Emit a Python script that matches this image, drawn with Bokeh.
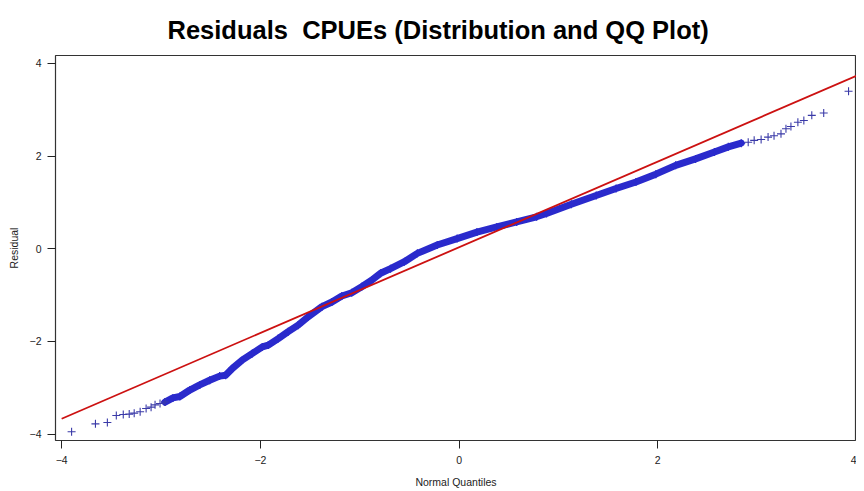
from bokeh.plotting import figure
from bokeh.models import FixedTicker
from bokeh.embed import file_html
from bokeh.resources import INLINE

# --- data ---
# individual crosses in the lower tail
tail_lo_q = [-3.90, -3.66, -3.54, -3.45, -3.38, -3.32, -3.27, -3.21, -3.15, -3.10, -3.06, -3.01, -2.96]
tail_lo_r = [-3.95, -3.78, -3.75, -3.60, -3.58, -3.57, -3.55, -3.52, -3.45, -3.42, -3.37, -3.34, -3.31]
# dense body of the sample (theoretical quantile, residual)
body_q = [-2.96, -2.88, -2.81, -2.71, -2.61, -2.51, -2.41, -2.35, -2.28, -2.18, -2.08, -1.98, -1.92,
          -1.82, -1.72, -1.62, -1.52, -1.38, -1.28, -1.18, -1.08, -0.98, -0.88, -0.79, -0.69, -0.55,
          -0.42, -0.22, -0.02, 0.18, 0.38, 0.58, 0.78, 0.88, 1.13, 1.38, 1.58, 1.78, 1.98, 2.18,
          2.38, 2.57, 2.71, 2.84]
body_r = [-3.31, -3.22, -3.19, -3.05, -2.94, -2.84, -2.75, -2.73, -2.58, -2.40, -2.26, -2.12, -2.08,
          -1.94, -1.79, -1.65, -1.47, -1.25, -1.15, -1.02, -0.95, -0.82, -0.68, -0.53, -0.43, -0.28,
          -0.10, 0.08, 0.22, 0.36, 0.47, 0.58, 0.69, 0.76, 0.96, 1.15, 1.30, 1.44, 1.61, 1.80,
          1.94, 2.09, 2.20, 2.28]
# individual crosses in the upper tail
tail_hi_q = [2.91, 2.97, 3.04, 3.11, 3.17, 3.24, 3.29, 3.34, 3.41, 3.47, 3.55, 3.67, 3.92]
tail_hi_r = [2.30, 2.34, 2.36, 2.41, 2.44, 2.48, 2.59, 2.64, 2.73, 2.77, 2.88, 2.93, 3.40]
# reference (qq) line end points
line_q = [-4.0, 4.05]
line_r = [-3.67, 3.78]

x_ticks = [-4, -2, 0, 2, 4]
y_ticks = [-4, -2, 0, 2, 4]

FONT = "Liberation Sans"

p = figure(width=856, height=490, output_backend="svg", toolbar_location=None,
           x_range=(-4.062, 4.0), y_range=(-4.14, 4.172),
           min_border_left=55, min_border_right=0, min_border_top=55, min_border_bottom=50,
           title="Residuals \u00a0CPUEs (Distribution and QQ Plot)")
p.background_fill_color = "white"
p.border_fill_color = "white"
p.outline_line_color = "#333333"
p.outline_line_width = 1.2
p.grid.visible = False

p.title.text_font = FONT
p.title.text_font_size = "25.5px"
p.title.text_font_style = "bold"
p.title.text_color = "black"
p.title.align = "left"
p.title.offset = 112
p.title.standoff = 23

for ax, ticks in ((p.xaxis, x_ticks), (p.yaxis, y_ticks)):
    ax.ticker = FixedTicker(ticks=ticks)
    ax.minor_tick_line_color = None
    ax.axis_line_color = None
    ax.major_tick_out = 8
    ax.major_tick_in = 0
    ax.major_tick_line_color = "#222222"
    ax.major_label_text_font = FONT
    ax.major_label_text_font_size = "10.5px"
    ax.major_label_text_color = "#222222"
    ax.axis_label_text_font = FONT
    ax.axis_label_text_font_size = "10.5px"
    ax.axis_label_text_font_style = "normal"
    ax.axis_label_text_color = "#222222"

p.xaxis.axis_label = "Normal Quantiles"
p.xaxis.major_label_standoff = 7
p.xaxis.axis_label_standoff = 9
p.yaxis.axis_label = "Residual"
p.yaxis.major_label_standoff = 6
p.yaxis.axis_label_standoff = 7

# dense body drawn as a thick band plus crosses
p.line(body_q, body_r, line_color="#2a2acc", line_width=7, line_join="round", line_cap="round")
p.scatter(body_q, body_r, marker="cross", size=8, line_color="#2a2acc", line_width=1.3)
p.scatter(tail_lo_q, tail_lo_r, marker="cross", size=8, line_color="#3a3aa8", line_width=1.1)
p.scatter(tail_hi_q, tail_hi_r, marker="cross", size=8, line_color="#3a3aa8", line_width=1.1)

# reference line
p.line(line_q, line_r, line_color="#cc1111", line_width=1.8)

open("out.html", "w").write(file_html(p, INLINE))
